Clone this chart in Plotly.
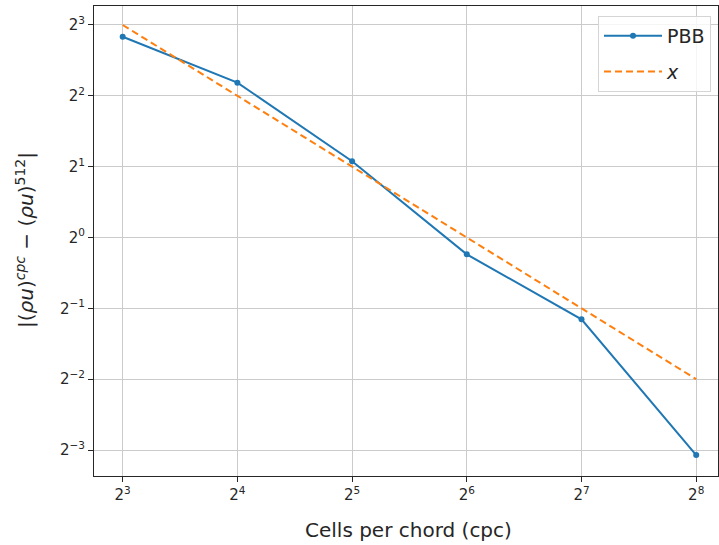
import math
import plotly.graph_objects as go

cpc = [8, 16, 32, 64, 128, 256]
pbb_err = [7.13, 4.55, 2.11, 0.848, 0.449, 0.119]
ref_x = [8, 4, 2, 1, 0.5, 0.25]

x_tick_vals = [8, 16, 32, 64, 128, 256]
x_tick_text = ["2<sup>3</sup>", "2<sup>4</sup>", "2<sup>5</sup>", "2<sup>6</sup>", "2<sup>7</sup>", "2<sup>8</sup>"]
y_tick_vals = [8, 4, 2, 1, 0.5, 0.25, 0.125]
y_tick_text = ["2<sup>3</sup>", "2<sup>2</sup>", "2<sup>1</sup>", "2<sup>0</sup>", "2<sup>\u22121</sup>", "2<sup>\u22122</sup>", "2<sup>\u22123</sup>"]

font = "DejaVu Sans"
txt = "#262626"
L2 = math.log10(2)

W, H = 719, 545
ML, MR, MT, MB = 94, 1, 6, 69
PW, PH = W - ML - MR, H - MT - MB

def px_x(p):
    return (p - ML) / PW

def px_y(p):
    return (H - MB - p) / PH

fig = go.Figure()
fig.add_trace(go.Scatter(x=cpc, y=pbb_err, mode="lines+markers", name="PBB",
                         legendgroup="a",
                         line=dict(color="#1f77b4", width=2),
                         marker=dict(color="#1f77b4", size=6)))
fig.add_trace(go.Scatter(x=cpc, y=ref_x, mode="lines", name="<i>x</i>",
                         legendgroup="b",
                         line=dict(color="#ff7f0e", width=2, dash="7px,4px")))

fig.update_layout(
    width=W, height=H,
    margin=dict(l=ML, r=MR, t=MT, b=MB, autoexpand=False),
    paper_bgcolor="white", plot_bgcolor="white",
    font=dict(family=font, color=txt),
    showlegend=True,
    legend=dict(x=px_x(598), y=px_y(16), xanchor="left", yanchor="top",
                bgcolor="rgba(255,255,255,0.8)", bordercolor="#d5d5d5", borderwidth=1,
                font=dict(size=19, family=font, color=txt),
                traceorder="grouped", tracegroupgap=8, itemwidth=58),
    annotations=[
        dict(text="Cells per chord (cpc)", xref="paper", yref="paper",
             x=px_x(408), y=px_y(530), xanchor="center", yanchor="middle",
             showarrow=False, font=dict(size=20, family=font, color=txt)),
        dict(text="|(<i>\u03c1u</i>)<sup><i>cpc</i></sup> \u2212 (<i>\u03c1u</i>)<sup>512</sup>|",
             xref="paper", yref="paper", x=px_x(25), y=px_y(240),
             xanchor="center", yanchor="middle", textangle=-90,
             showarrow=False, font=dict(size=20, family=font, color=txt)),
    ],
)
common = dict(type="log", tickfont=dict(size=15, family=font, color=txt),
              ticks="outside", ticklen=5, tickcolor=txt,
              showgrid=True, gridcolor="#cbcbcb", gridwidth=1,
              showline=True, linecolor=txt, linewidth=1, mirror=True,
              zeroline=False, automargin=False)
fig.update_xaxes(range=[2.75 * L2, 8.19 * L2], tickvals=x_tick_vals, ticktext=x_tick_text, **common)
fig.update_yaxes(range=[-3.367 * L2, 3.268 * L2], tickvals=y_tick_vals, ticktext=y_tick_text, **common)

fig.write_html("out.html", config={"displayModeBar": False},
               post_script="document.body.style.margin='0';document.body.style.overflow='hidden';")
